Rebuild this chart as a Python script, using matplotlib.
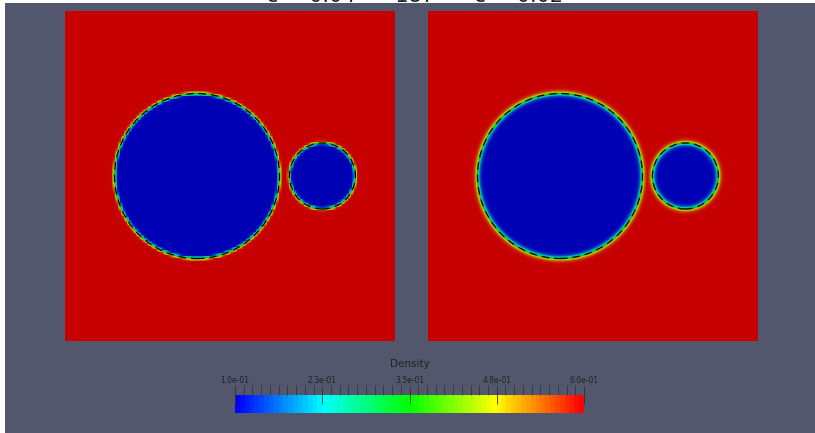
import numpy as np
import matplotlib
matplotlib.use("Agg")
import matplotlib.pyplot as plt
from matplotlib.colors import LinearSegmentedColormap, Normalize
from matplotlib.patches import Circle, Rectangle
from matplotlib.cm import ScalarMappable

# bubble geometry (unit square domain)
centers_x = [0.40, 0.78]
centers_y = [0.50, 0.50]
radii = [0.25, 0.10]

# density of the two phases
rho_in = 0.1
rho_out = 0.6

# interface widths and grid resolution per panel
eps_values = [0.0035, 0.008]
grid_sizes = [110, 330]
title = "ε = 0.04      187      ε = 0.02"

cbar_ticks = [0.1, 0.225, 0.35, 0.475, 0.6]
cbar_labels = ["1.0e-01", "2.3e-01", "3.5e-01", "4.8e-01", "6.0e-01"]

BG = "#52576e"
W, H = 815, 433

nodes = [(0.0, (0, 0, 1)), (0.25, (0, 1, 1)), (0.5, (0, 1, 0)),
         (0.75, (1, 1, 0)), (1.0, (1, 0, 0))]
cmap_bar = LinearSegmentedColormap.from_list("dens", nodes, N=72)
# surface shading makes the rendered field darker than the legend
shade = 0.78
cmap_field = LinearSegmentedColormap.from_list(
    "dens_shaded",
    [(p, (r * shade, g * shade, b * (0.71 if (r, g) == (0, 0) else shade)))
     for p, (r, g, b) in nodes], N=256)


def density(n, eps):
    x = (np.arange(n) + 0.5) / n
    X, Y = np.meshgrid(x, x)
    phi = np.zeros_like(X)
    for cx, cy, r in zip(centers_x, centers_y, radii):
        d = np.hypot(X - cx, Y - cy) - r
        phi = np.maximum(phi, 0.5 * (1 - np.tanh(d / eps)))
    return rho_out - (rho_out - rho_in) * phi


fig = plt.figure(figsize=(W / 100, H / 100), dpi=100)
fig.patch.set_facecolor("white")
fig.add_artist(Rectangle((5 / W, 0), 1, (H - 3) / H, transform=fig.transFigure,
                         facecolor=BG, edgecolor="none", zorder=0))

# title sits mostly above the canvas, only its lower edge shows
fig.text(415 / W, 1 - 1.5 / H, title, ha="center", va="baseline",
         fontsize=15, color="#202020", zorder=1)

norm = Normalize(rho_in, rho_out)
for left, eps, n in zip([65, 428], eps_values, grid_sizes):
    ax = fig.add_axes([left / W, 92 / H, 330 / W, 330 / H])
    ax.imshow(density(n, eps), cmap=cmap_field, norm=norm, origin="lower",
              extent=[0, 1, 0, 1], interpolation="bilinear")
    for cx, cy, r in zip(centers_x, centers_y, radii):
        ax.add_patch(Circle((cx, cy), r, fill=False, color="black",
                            lw=0.9, linestyle=(0, (6, 4))))
    ax.set_xlim(0, 1)
    ax.set_ylim(0, 1)
    ax.axis("off")

# legend bar
cax = fig.add_axes([235 / W, 20 / H, 349 / W, 18 / H])
cb = fig.colorbar(ScalarMappable(norm=norm, cmap=cmap_bar), cax=cax,
                  orientation="horizontal", ticklocation="top")
cb.outline.set_visible(False)
cb.set_ticks(cbar_ticks, labels=cbar_labels)
cb.set_ticks(np.arange(0.1, 0.6001, 0.0125), minor=True)
cax.tick_params(which="major", direction="inout", length=13, width=0.6,
                color="#303030", labelsize=5.5, labelcolor="#222222", pad=1)
cax.tick_params(which="minor", direction="out", length=7, width=0.5,
                color="#303030")
fig.text(410 / W, 1 - 364 / H, "Density", ha="center", va="center",
         fontsize=7.5, color="#222222")

fig.savefig("out.png", dpi=100, facecolor=fig.get_facecolor())
